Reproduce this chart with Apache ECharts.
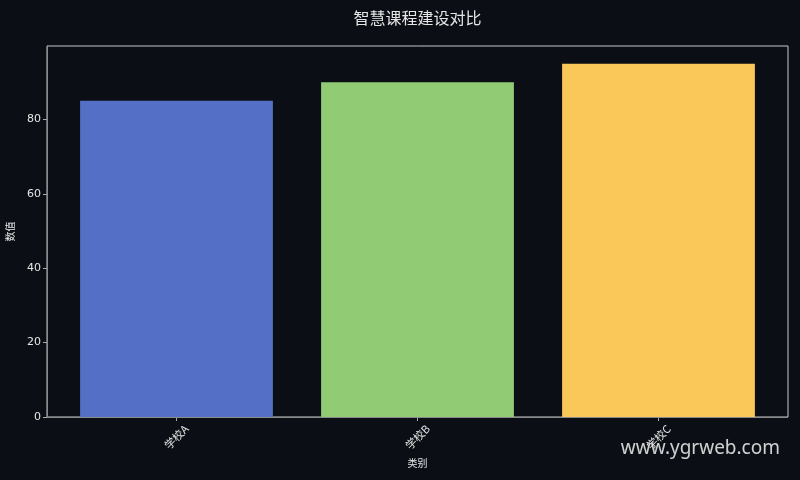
<!DOCTYPE html>
<html>
<head>
<meta charset="utf-8">
<script src="https://cdn.jsdelivr.net/npm/echarts@6/dist/echarts.min.js"></script>
<style>
  html, body { margin: 0; padding: 0; background: #0b0e14; }
  #main { width: 800px; height: 480px; }
</style>
</head>
<body>
<div id="main"></div>
<script>
var categories = ['学校A', '学校B', '学校C'];
var values = [85, 90, 95];
var barColors = ['#5470c6', '#91cc75', '#fac858'];
var yTicks = [0, 20, 40, 60, 80];

var font = '"Noto Sans CJK SC", "DejaVu Sans", sans-serif';
var myChart = echarts.init(document.getElementById('main'));

var option = {
  backgroundColor: '#0b0e14',
  animation: false,
  grid: [
    // outer frame
    { left: 47, right: 12, top: 46, bottom: 63, show: true, borderColor: '#c8c8c8', borderWidth: 1,
      backgroundColor: 'transparent', outerBoundsMode: 'none', containLabel: false },
    // data area
    { left: 56, right: 21, top: 46, bottom: 63, outerBoundsMode: 'none', containLabel: false }
  ],
  xAxis: [
    { gridIndex: 0, type: 'value', show: false, min: 0, max: 1 },
    {
      gridIndex: 1,
      type: 'category',
      data: categories,
      name: '类别',
      nameLocation: 'middle',
      nameGap: 41,
      nameMoveOverlap: false,
      nameTextStyle: { color: '#e6e6e6', fontSize: 10, fontFamily: font },
      axisLine: { show: false },
      axisTick: { show: true, alignWithLabel: true, length: 4, lineStyle: { color: '#aaaaaa' } },
      axisLabel: {
        color: '#e6e6e6', fontSize: 11, fontFamily: font,
        rotate: 45, align: 'center', verticalAlign: 'middle', margin: 20
      }
    }
  ],
  yAxis: [
    { gridIndex: 0, type: 'value', show: false, min: 0, max: 1 },
    {
      gridIndex: 1,
      type: 'value',
      min: 0,
      max: 99.75,
      interval: 20,
      offset: 9,
      name: '数值',
      nameLocation: 'middle',
      nameGap: 32,
      nameMoveOverlap: false,
      nameTextStyle: { color: '#e6e6e6', fontSize: 10, fontFamily: font },
      axisLine: { show: true, lineStyle: { color: '#8a8a8a' } },
      axisTick: { show: true, length: 4, lineStyle: { color: '#aaaaaa' }, customValues: yTicks },
      axisLabel: { color: '#e6e6e6', fontSize: 11, fontFamily: '"DejaVu Sans", sans-serif', margin: 6, customValues: yTicks },
      splitLine: { show: false }
    }
  ],
  series: [
    {
      type: 'bar',
      xAxisIndex: 1,
      yAxisIndex: 1,
      barWidth: '80%',
      data: values.map(function (v, i) {
        return { value: v, itemStyle: { color: barColors[i] } };
      })
    }
  ],
  graphic: [
    {
      type: 'text',
      x: 417.5,
      y: 18,
      style: { text: '智慧课程建设对比', fill: '#e6e6e6', fontSize: 16, fontFamily: font, align: 'center', verticalAlign: 'middle' },
      z: 100
    },
    {
      type: 'line',
      shape: { x1: 47, y1: 417.5, x2: 788, y2: 417.5 },
      style: { stroke: '#8a8a8a', lineWidth: 1 },
      z: 100
    },
    {
      type: 'text',
      right: 20,
      top: 439,
      style: { text: 'www.ygrweb.com', fill: 'rgba(230,230,230,0.9)', fontSize: 19, fontFamily: '"Noto Sans", "DejaVu Sans", sans-serif' },
      z: 200
    }
  ]
};

myChart.setOption(option);
</script>
</body>
</html>
